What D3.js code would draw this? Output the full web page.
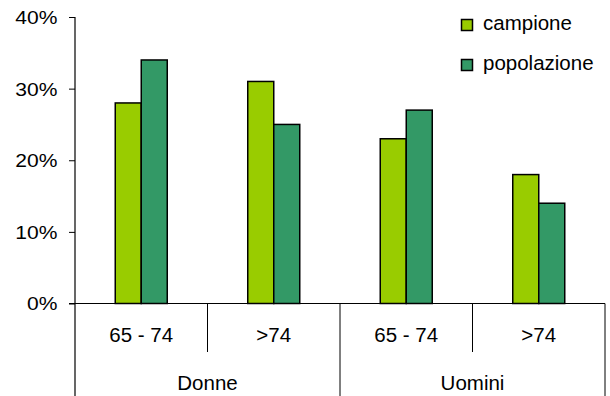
<!DOCTYPE html>
<html>
<head>
<meta charset="utf-8">
<script src="https://cdn.jsdelivr.net/npm/d3@7"></script>
<style>
  html, body { margin: 0; padding: 0; background: #fff; }
  svg { display: block; font-family: Arial, "Liberation Sans", sans-serif; }
</style>
</head>
<body>
<svg id="chart" width="610" height="396"></svg>
<script>
// Age bands and the sex group each belongs to
const ageBands = ["65 - 74", ">74", "65 - 74", ">74"];
const groups = ["Donne", "Uomini"];
const seriesNames = ["campione", "popolazione"];
const seriesColors = ["#99CC00", "#339966"];
// Shares in percent, one entry per age band
const campione = [28, 31, 23, 18];
const popolazione = [34, 25, 27, 14];
const yTicks = [0, 10, 20, 30, 40];

const svg = d3.select("#chart");
const W = 610, H = 396;
const plotLeft = 75, plotRight = 605, plotTop = 17, plotBottom = 303.5;

const x = d3.scaleBand().domain(d3.range(ageBands.length)).range([plotLeft, plotRight]);
const y = d3.scaleLinear().domain([0, 40]).range([plotBottom, plotTop]);
const barW = 26;
const inner = d3.scaleBand().domain(seriesNames)
  .range([x.bandwidth() / 2 - barW, x.bandwidth() / 2 + barW]);

const values = [campione, popolazione];

// Bars
seriesNames.forEach((s, si) => {
  svg.append("g").selectAll("rect")
    .data(values[si])
    .join("rect")
    .attr("x", (d, i) => x(i) + inner(s))
    .attr("y", d => y(d))
    .attr("width", inner.bandwidth())
    .attr("height", d => y(0) - y(d))
    .attr("fill", seriesColors[si])
    .attr("stroke", "#000")
    .attr("stroke-width", 1.5);
});

// Y axis with percent ticks
const yAxis = d3.axisLeft(y).tickValues(yTicks).tickSize(6).tickPadding(0).tickFormat(d => d + "%");
const yg = svg.append("g").attr("transform", `translate(${plotLeft},0)`).call(yAxis);
yg.select(".domain").remove();
yg.selectAll(".tick line").attr("stroke", "#000");
yg.selectAll(".tick text").remove();
yg.selectAll(".tick").append("text")
  .attr("transform", "translate(-17.5,0) scale(1.17,1)")
  .attr("text-anchor", "end")
  .attr("dy", "0.36em")
  .attr("fill", "#000")
  .attr("font-size", 18)
  .text(d => d + "%");

svg.append("line")
  .attr("x1", plotLeft).attr("x2", plotLeft)
  .attr("y1", plotTop).attr("y2", H)
  .attr("stroke", "#000").attr("stroke-width", 1.2);

// Baseline
svg.append("line")
  .attr("x1", plotLeft - 6).attr("x2", plotRight)
  .attr("y1", y(0)).attr("y2", y(0))
  .attr("stroke", "#000").attr("stroke-width", 1);

// Category dividers: short between age bands, full between groups
ageBands.forEach((a, i) => {
  if (i === 0) return;
  const full = i % 2 === 0;
  svg.append("line")
    .attr("x1", x(i)).attr("x2", x(i))
    .attr("y1", y(0)).attr("y2", full ? H : 352)
    .attr("stroke", "#000").attr("stroke-width", 1);
});
svg.append("line")
  .attr("x1", plotRight).attr("x2", plotRight)
  .attr("y1", y(0)).attr("y2", H)
  .attr("stroke", "#000").attr("stroke-width", 1);

// Age band labels
svg.append("g").selectAll("text")
  .data(ageBands)
  .join("text")
  .attr("x", (d, i) => x(i) + x.bandwidth() / 2)
  .attr("y", 341.5)
  .attr("text-anchor", "middle")
  .attr("font-size", 20.5)
  .attr("fill", "#000")
  .text(d => d);

// Group labels
svg.append("g").selectAll("text")
  .data(groups)
  .join("text")
  .attr("x", (d, i) => x(i * 2) + x.bandwidth())
  .attr("y", 390)
  .attr("text-anchor", "middle")
  .attr("font-size", 20.5)
  .attr("fill", "#000")
  .text(d => d);

// Legend
const legend = svg.append("g");
seriesNames.forEach((s, i) => {
  const ly = 25 + i * 40;
  legend.append("rect")
    .attr("x", 461.5).attr("y", ly - 5.5)
    .attr("width", 11).attr("height", 11)
    .attr("fill", seriesColors[i])
    .attr("stroke", "#000").attr("stroke-width", 1.5);
  legend.append("text")
    .attr("x", 483).attr("y", ly + 5)
    .attr("font-size", 20.5)
    .attr("fill", "#000")
    .text(s);
});
</script>
</body>
</html>
